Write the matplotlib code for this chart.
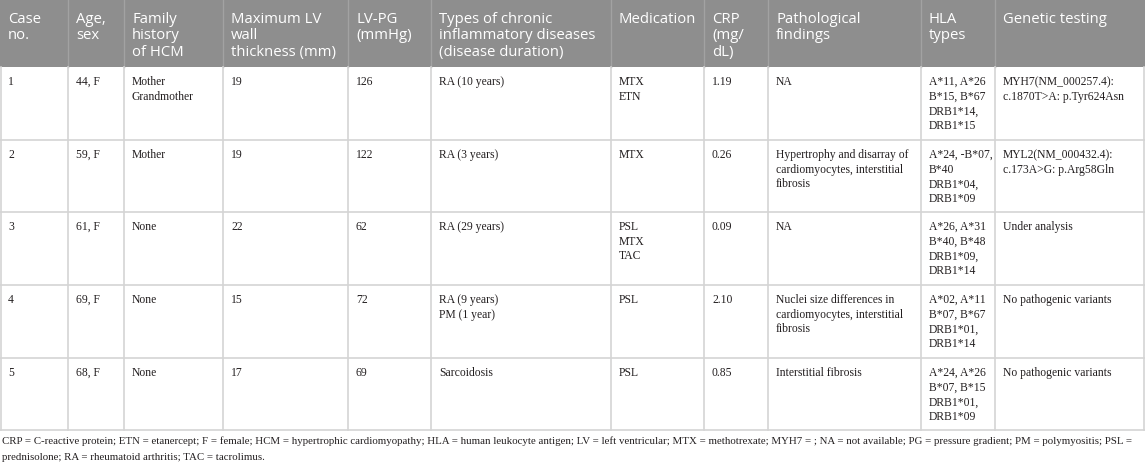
import matplotlib
matplotlib.use("Agg")
import matplotlib.pyplot as plt
from matplotlib.patches import Rectangle

# table content
headers = ["Case\nno.", "Age,\nsex", "Family\nhistory\nof HCM", "Maximum LV\nwall\nthickness (mm)",
           "LV-PG\n(mmHg)", "Types of chronic\ninflammatory diseases\n(disease duration)",
           "Medication", "CRP\n(mg/\ndL)", "Pathological\nfindings", "HLA\ntypes", "Genetic testing"]

case_no = ["1", "2", "3", "4", "5"]
age_sex = ["44, F", "59, F", "61, F", "69, F", "68, F"]
family_history = ["Mother\nGrandmother", "Mother", "None", "None", "None"]
max_lv_wall = ["19", "19", "22", "15", "17"]
lv_pg = ["126", "122", "62", "72", "69"]
diseases = ["RA (10 years)", "RA (3 years)", "RA (29 years)", "RA (9 years)\nPM (1 year)", "Sarcoidosis"]
medication = ["MTX\nETN", "MTX", "PSL\nMTX\nTAC", "PSL", "PSL"]
crp = ["1.19", "0.26", "0.09", "2.10", "0.85"]
pathology = ["NA",
             "Hypertrophy and disarray of\ncardiomyocytes, interstitial\nfibrosis",
             "NA",
             "Nuclei size differences in\ncardiomyocytes, interstitial\nfibrosis",
             "Interstitial fibrosis"]
hla_types = ["A*11, A*26\nB*15, B*67\nDRB1*14,\nDRB1*15",
             "A*24, -B*07,\nB*40\nDRB1*04,\nDRB1*09",
             "A*26, A*31\nB*40, B*48\nDRB1*09,\nDRB1*14",
             "A*02, A*11\nB*07, B*67\nDRB1*01,\nDRB1*14",
             "A*24, A*26\nB*07, B*15\nDRB1*01,\nDRB1*09"]
genetic = ["MYH7(NM_000257.4):\nc.1870T>A: p.Tyr624Asn",
           "MYL2(NM_000432.4):\nc.173A>G: p.Arg58Gln",
           "Under analysis",
           "No pathogenic variants",
           "No pathogenic variants"]

footnote = ["CRP = C-reactive protein; ETN = etanercept; F = female; HCM = hypertrophic cardiomyopathy; "
            "HLA = human leukocyte antigen; LV = left ventricular; MTX = methotrexate; MYH7 = ; "
            "NA = not available; PG = pressure gradient; PM = polymyositis; PSL =",
            "prednisolone; RA = rheumatoid arthritis; TAC = tacrolimus."]

columns = [case_no, age_sex, family_history, max_lv_wall, lv_pg, diseases,
           medication, crp, pathology, hla_types, genetic]

# layout in pixels
W, H = 1145, 463
col_x = [0, 68, 124, 223, 348, 431, 611, 704, 768, 921, 995, 1145]
row_y = [0, 67, 140, 212, 285, 358, 430]
header_bg = "#8e8e8e"
grid_col = "#d4d4d4"

fig = plt.figure(figsize=(W / 100, H / 100), dpi=100)
ax = fig.add_axes([0, 0, 1, 1])
ax.set_xlim(0, W)
ax.set_ylim(H, 0)
ax.axis("off")

# header band
ax.add_patch(Rectangle((0, row_y[0]), W, row_y[1] - row_y[0], facecolor=header_bg, edgecolor="none"))
for x in col_x[1:-1]:
    ax.plot([x, x], [row_y[0], row_y[1]], color="#a2a2a2", lw=1)

# body grid
for y in row_y[2:]:
    ax.plot([0, W], [y, y], color=grid_col, lw=1.2)
for x in col_x:
    xx = min(max(x, 0.6), W - 0.6)
    ax.plot([xx, xx], [row_y[1], row_y[-1]], color=grid_col, lw=1.2)

pad = 8
for j, h in enumerate(headers):
    ax.text(col_x[j] + pad, 12, h, ha="left", va="top", color="white",
            family="Open Sans", fontsize=10.7, linespacing=1.13)

for j, col in enumerate(columns):
    for i, val in enumerate(col):
        ax.text(col_x[j] + pad, row_y[i + 1] + 9, val, ha="left", va="top", color="#231f20",
                family="Liberation Serif", fontsize=8.4, linespacing=1.3)

for k, line in enumerate(footnote):
    ax.text(2, 441 + 16 * k, line, ha="left", va="center", color="#231f20",
            family="Liberation Serif", fontsize=7.8)

fig.savefig("out.png", dpi=100)
